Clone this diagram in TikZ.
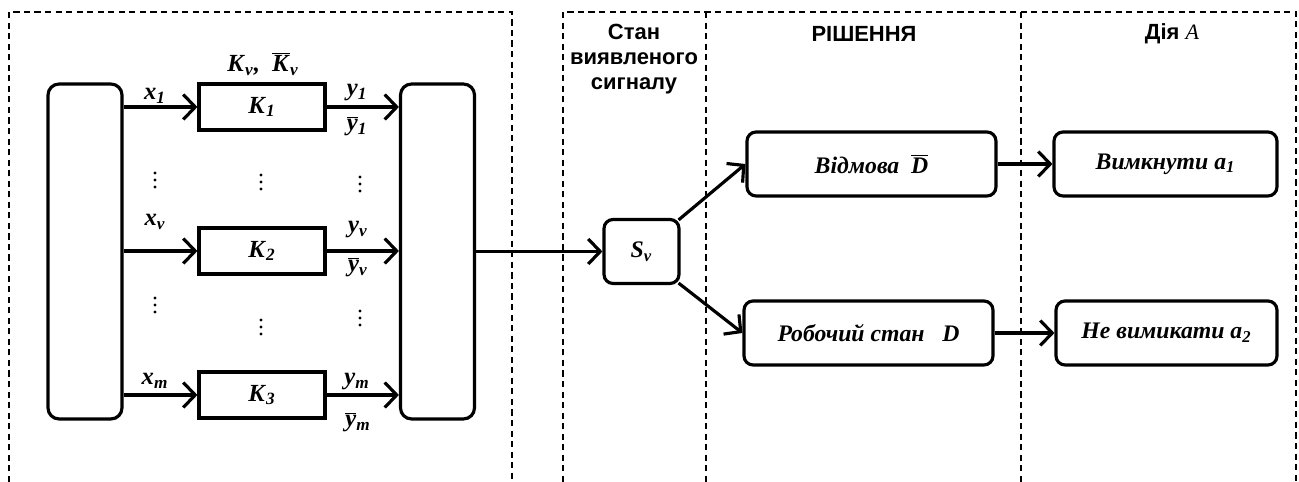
\documentclass[tikz,border=0pt]{standalone}
\usepackage{fontspec}
\setmainfont{Liberation Serif}
\setsansfont{Liberation Sans}
\usetikzlibrary{arrows.meta,positioning}

\newcommand{\bi}[1]{\textbf{\textit{#1}}}
\newcommand{\ovl}[1]{$\overline{\mbox{#1}}$}
\newcommand{\nusub}{\textsubscript{\bi{ν}}}

\tikzset{
  frame/.style={line width=0.8pt, dash pattern=on 3.5pt off 2.5pt},
  bigbox/.style={draw, line width=1.8pt, rounded corners=0.22cm,
    minimum width=1.48cm, minimum height=6.7cm},
  kbox/.style={draw, line width=1.8pt, minimum width=2.52cm, minimum height=0.92cm,
    font=\fontsize{14}{16}\selectfont},
  sbox/.style={draw, line width=1.8pt, rounded corners=0.18cm,
    minimum height=1.28cm, font=\fontsize{13.5}{16}\selectfont},
  flow/.style={line width=1.8pt, -{Straight Barb[length=2.4mm,width=5mm,line width=1.8pt]}},
  lbl/.style={font=\fontsize{14}{16}\selectfont, inner sep=0pt},
  hdr/.style={font=\sffamily\bfseries\fontsize{12.5}{14.2}\selectfont, align=center}
}

\begin{document}
\begin{tikzpicture}[x=0.02cm, y=-0.02cm]
  \useasboundingbox (0,0) rectangle (1299,482);

  % dashed frames
  \draw[frame] (9,482) -- (9,12) -- (512,12) -- (512,482);
  \draw[frame] (563,482) -- (563,12) -- (1296,12) -- (1296,482);
  \draw[frame] (706,12) -- (706,482);
  \draw[frame] (1021,12) -- (1021,482);

  % headers
  \node[hdr] (hstate) at (634,59) {Стан\\виявленого\\сигналу};
  \node[hdr] (hdec) at (864,34) {РІШЕННЯ};
  \node[hdr] (hact) at (1172,34) {Дія {\rmfamily\mdseries\itshape A}};

  % left part
  \node[bigbox] (lbox) at (85,251.5) {};
  \node[bigbox] (rbox) at (437.5,251.5) {};
  \node[kbox] (k1) at (262,107) {\bi{K}\textsubscript{\bi{1}}};
  \node[kbox] (k2) at (262,251) {\bi{K}\textsubscript{\bi{2}}};
  \node[kbox] (k3) at (262,395) {\bi{K}\textsubscript{\bi{3}}};
  \node[lbl] (kname) at (263,64) {\bi{K}\nusub\bi{,}\ \ \ovl{\bi{K}}\nusub};

  \foreach \k in {1,2,3} {
    \draw[flow] (lbox.east |- k\k) -- (k\k.west);
    \draw[flow] (k\k.east) -- (k\k.east -| rbox.west);
  }

  \node[lbl] (x1) at (155,96) {\bi{x}\textsubscript{\bi{1}}};
  \node[lbl] (xv) at (155,222) {\bi{x}\nusub};
  \node[lbl] (xm) at (155,381) {\bi{x}\textsubscript{\bi{m}}};
  \node[lbl] (y1) at (357,93) {\bi{y}\textsubscript{\bi{1}}};
  \node[lbl] (yb1) at (357,126) {\ovl{\bi{y}}\textsubscript{\bi{1}}};
  \node[lbl] (yv) at (358,230) {\bi{y}\nusub};
  \node[lbl] (ybv) at (358,267) {\ovl{\bi{y}}\nusub};
  \node[lbl] (ym) at (357,382) {\bi{y}\textsubscript{\bi{m}}};
  \node[lbl] (ybm) at (358,422) {\ovl{\bi{y}}\textsubscript{\bi{m}}};

  % dots
  \foreach \px/\py in {155/180, 261/182, 360/184, 155/305, 261/327, 360/318}
    \foreach \d in {-7,0,7}
      \fill (\px,\py+\d) circle (1.6);

  % state and decision
  \node[sbox, minimum width=1.5cm] (sv) at (641.5,251.5) {\bi{S}\nusub};
  \node[sbox, minimum width=4.98cm] (otk) at (871.5,164) {\bi{Відмова}\ \ \ovl{\bi{D}}};
  \node[sbox, minimum width=4.98cm] (rob) at (868.5,333) {\bi{Робочий стан}\ \ \ \bi{D}};
  \node[sbox, minimum width=4.46cm] (vym) at (1165.5,164) {\bi{Вимкнути a}\textsubscript{\bi{1}}};
  \node[sbox, minimum width=4.42cm] (nev) at (1166.5,333) {\bi{Не вимикати a}\textsubscript{\bi{2}}};

  \draw[flow] (rbox.east |- sv) -- (sv.west);
  \draw[flow] ([shift={(-2,2)}]sv.north east) -- (otk.west);
  \draw[flow] ([shift={(-2,-2)}]sv.south east) -- (rob.west);
  \draw[flow] (otk.east) -- (vym.west);
  \draw[flow] (rob.east) -- (nev.west);
\end{tikzpicture}
\end{document}
